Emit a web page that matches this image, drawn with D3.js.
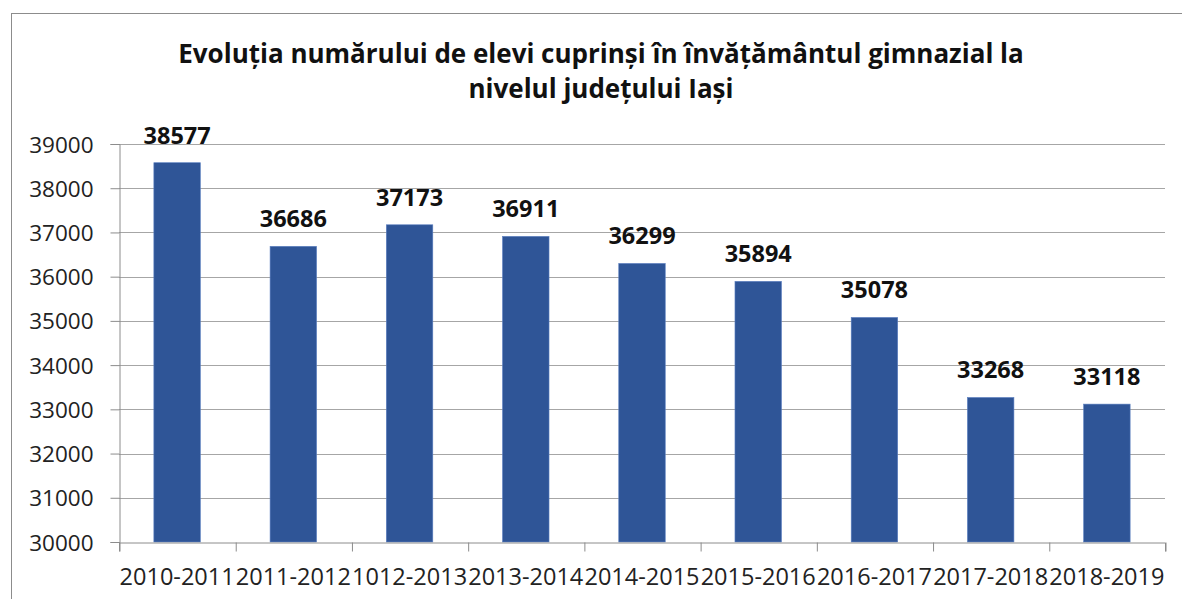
<!DOCTYPE html>
<html><head><meta charset="utf-8">
<script src="https://cdn.jsdelivr.net/npm/d3@7"></script>
<style>html,body{margin:0;padding:0;background:#fff;overflow:hidden}</style>
</head><body><svg id="c" width="1182" height="599"></svg>
<script>
const categories = ["2010-2011","2011-2012","1012-2013","2013-2014","2014-2015","2015-2016","2016-2017","2017-2018","2018-2019"];
const values = [38577,36686,37173,36911,36299,35894,35078,33268,33118];
const yTicks = [30000,31000,32000,33000,34000,35000,36000,37000,38000,39000];
const titleLines = ["Evoluția numărului de elevi cuprinși în învățământul gimnazial la","nivelul județului Iași"];

const svg = d3.select("#c");
const font = "'Open Sans', sans-serif";
const L = 119, R = 1165, T = 144, B = 542;

svg.append("rect").attr("x",11.5).attr("y",13.5).attr("width",1200).attr("height",700)
  .attr("fill","#fff").attr("stroke","#8c8c8c").attr("stroke-width",1);

const x = d3.scaleBand().domain(categories).range([L,R]).paddingInner(0.6).paddingOuter(0.3);
const y = d3.scaleLinear().domain([30000,39000]).range([B,T]);

// gridlines
svg.append("g").selectAll("line").data(yTicks.slice(1)).join("line")
  .attr("x1",L).attr("x2",R).attr("y1",d=>Math.round(y(d))+0.5).attr("y2",d=>Math.round(y(d))+0.5)
  .attr("stroke","#a6a6a6").attr("stroke-width",1);

// y axis
const ya = svg.append("g").attr("transform",`translate(${L+0.5},0)`)
  .call(d3.axisLeft(y).tickValues(yTicks).tickSize(9).tickPadding(17).tickFormat(d3.format("d")));
ya.selectAll("path,line").attr("stroke","#8c8c8c");
ya.selectAll("text").attr("font-family",font).attr("font-size",22.5).attr("fill","#222").attr("dy","0.36em");

// bars
svg.append("g").selectAll("rect").data(values).join("rect")
  .attr("x",(d,i)=>x(categories[i])).attr("width",x.bandwidth())
  .attr("y",d=>y(d)).attr("height",d=>B-y(d))
  .attr("fill","#2f5597").attr("stroke","#5b7fc0").attr("stroke-width",0.6);

// x axis
const xb = d3.scaleLinear().domain([0,categories.length]).range([L,R]);
const xa = svg.append("g").attr("transform",`translate(0,${B+0.5})`)
  .call(d3.axisBottom(xb).tickValues(d3.range(categories.length+1)).tickSize(9).tickFormat(""));
xa.selectAll("path,line").attr("stroke","#8c8c8c");
xa.selectAll(".tick line").attr("transform","translate(0.5,0)");

svg.append("g").selectAll("text").data(categories).join("text")
  .attr("x",d=>x(d)+x.bandwidth()/2).attr("y",585)
  .attr("text-anchor","middle").attr("font-family",font).attr("font-size",23.5).attr("fill","#222")
  .text(d=>d);

// data labels
svg.append("g").selectAll("text").data(values).join("text")
  .attr("x",(d,i)=>x(categories[i])+x.bandwidth()/2).attr("y",d=>y(d)-19)
  .attr("text-anchor","middle").attr("font-family",font).attr("font-weight","bold")
  .attr("font-size",23.5).attr("fill","#111").text(d=>d);

// title
svg.append("g").selectAll("text").data(titleLines).join("text")
  .attr("x",601).attr("y",(d,i)=>63+i*35)
  .attr("text-anchor","middle").attr("font-family",font).attr("font-weight","bold")
  .attr("font-size",26).attr("fill","#111").text(d=>d);
</script></body></html>
